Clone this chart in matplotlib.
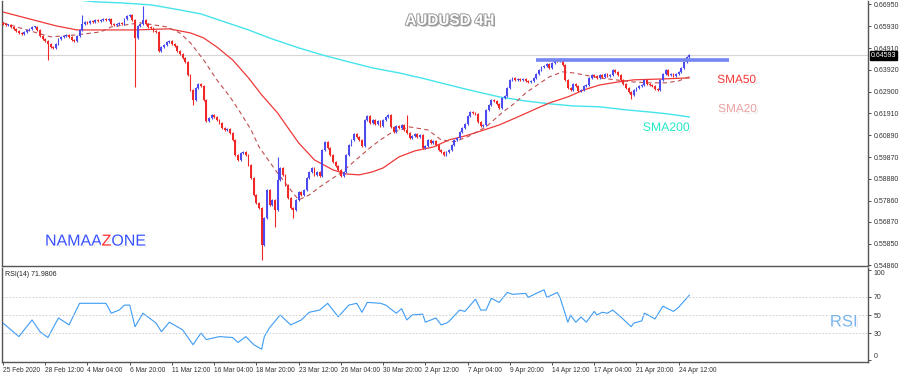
import numpy as np
import matplotlib
matplotlib.use('Agg')
import matplotlib.pyplot as plt
import matplotlib.patheffects as pe
import matplotlib.transforms as mtransforms

# --- AUDUSD 4H closes (one per bar) ---
first_open = 0.6609
closes = [
    0.6604, 0.6599, 0.6599, 0.6590, 0.6581, 0.6571, 0.6562, 0.6558, 0.6567, 0.6576,
    0.6581, 0.6590, 0.6590, 0.6576, 0.6548, 0.6534, 0.6525, 0.6511, 0.6497, 0.6493,
    0.6511, 0.6534, 0.6544, 0.6548, 0.6553, 0.6544, 0.6530, 0.6525, 0.6548, 0.6576,
    0.6604, 0.6613, 0.6609, 0.6618, 0.6613, 0.6622, 0.6618, 0.6622, 0.6627, 0.6622,
    0.6627, 0.6604, 0.6599, 0.6604, 0.6609, 0.6604, 0.6627, 0.6641, 0.6646, 0.6622,
    0.6539, 0.6595, 0.6604, 0.6622, 0.6604, 0.6590, 0.6585, 0.6571, 0.6567, 0.6479,
    0.6497, 0.6507, 0.6521, 0.6525, 0.6511, 0.6502, 0.6479, 0.6465, 0.6446, 0.6428,
    0.6368, 0.6298, 0.6252, 0.6308, 0.6326, 0.6317, 0.6252, 0.6155, 0.6169, 0.6183,
    0.6173, 0.6159, 0.6146, 0.6122, 0.6113, 0.6118, 0.6099, 0.6067, 0.5997, 0.5974,
    0.6007, 0.6011, 0.5997, 0.5951, 0.5891, 0.5812, 0.5775, 0.5752, 0.5581, 0.5706,
    0.5835, 0.5766, 0.5789, 0.5743, 0.5882, 0.5937, 0.5905, 0.5859, 0.5798, 0.5752,
    0.5743, 0.5789, 0.5826, 0.5812, 0.5835, 0.5891, 0.5919, 0.5937, 0.5905, 0.5919,
    0.5900, 0.6021, 0.6058, 0.6030, 0.5997, 0.5965, 0.5946, 0.5928, 0.5900, 0.5919,
    0.5997, 0.6044, 0.6067, 0.6095, 0.6081, 0.6067, 0.6039, 0.6159, 0.6178, 0.6146,
    0.6159, 0.6141, 0.6155, 0.6132, 0.6159, 0.6173, 0.6183, 0.6127, 0.6104, 0.6132,
    0.6122, 0.6136, 0.6113, 0.6099, 0.6076, 0.6085, 0.6095, 0.6081, 0.6090, 0.6030,
    0.6039, 0.6067, 0.6053, 0.6062, 0.6044, 0.6021, 0.6011, 0.5997, 0.6011, 0.6021,
    0.6044, 0.6067, 0.6076, 0.6104, 0.6122, 0.6141, 0.6178, 0.6196, 0.6192, 0.6187,
    0.6150, 0.6132, 0.6136, 0.6206, 0.6229, 0.6252, 0.6247, 0.6233, 0.6215, 0.6261,
    0.6271, 0.6308, 0.6345, 0.6354, 0.6345, 0.6349, 0.6345, 0.6349, 0.6340, 0.6335,
    0.6340, 0.6354, 0.6372, 0.6391, 0.6405, 0.6409, 0.6419, 0.6400, 0.6423, 0.6437,
    0.6433, 0.6442, 0.6414, 0.6345, 0.6308, 0.6298, 0.6326, 0.6317, 0.6294, 0.6298,
    0.6317, 0.6321, 0.6354, 0.6368, 0.6363, 0.6354, 0.6368, 0.6359, 0.6372, 0.6363,
    0.6368, 0.6391, 0.6382, 0.6368, 0.6345, 0.6326, 0.6308, 0.6289, 0.6275, 0.6298,
    0.6308, 0.6317, 0.6321, 0.6345, 0.6326, 0.6321, 0.6317, 0.6303, 0.6298, 0.6345,
    0.6372, 0.6391, 0.6368, 0.6372, 0.6363, 0.6372, 0.6382, 0.6400, 0.6428, 0.6451,
    0.64593,
]
# long wicks that stand out
wick_highs = {30: 0.6646, 53: 0.6687, 104: 0.5988, 153: 0.6183}
wick_lows = {17: 0.6437, 50: 0.6312, 72: 0.6229, 98: 0.5511, 103: 0.5664,
             110: 0.5706, 238: 0.6257}

# moving averages (bar index, price)
sma20_idx = [0, 9, 18, 28, 37, 41, 52, 62, 67, 71, 76, 81, 86, 90, 94, 97, 101, 104,
             109, 112, 116, 120, 124, 128, 135, 139, 143, 147, 154, 161, 166, 171, 176,
             183, 189, 194, 198, 203, 207, 212, 216, 220, 226, 232, 239, 245, 251, 256, 260]
sma20_val = [0.6609, 0.6576, 0.6544, 0.6553, 0.6567, 0.6590, 0.6609, 0.6590, 0.6562,
             0.6516, 0.6437, 0.6345, 0.6266, 0.6192, 0.6113, 0.6034, 0.5965, 0.5914,
             0.5835, 0.5789, 0.5812, 0.5849, 0.5882, 0.5914, 0.5988, 0.6030, 0.6067,
             0.6099, 0.6127, 0.6113, 0.6067, 0.6058, 0.6081, 0.6127, 0.6192, 0.6238,
             0.6284, 0.6326, 0.6359, 0.6382, 0.6377, 0.6368, 0.6354, 0.6345, 0.6335,
             0.6331, 0.6331, 0.6340, 0.6359]
sma50_idx = [0, 10, 20, 28, 40, 50, 63, 71, 76, 81, 87, 93, 98, 104, 108, 112, 118, 125,
             130, 135, 140, 144, 150, 156, 163, 169, 175, 180, 188, 195, 201, 207, 214,
             220, 226, 233, 239, 250, 260]
sma50_val = [0.6659, 0.6627, 0.6595, 0.6576, 0.6576, 0.6576, 0.6581, 0.6562, 0.6539,
             0.6497, 0.6437, 0.6354, 0.6275, 0.6192, 0.6122, 0.6053, 0.5974, 0.5928,
             0.5909, 0.5905, 0.5919, 0.5937, 0.5988, 0.6016, 0.6034, 0.6067, 0.6085,
             0.6104, 0.6136, 0.6173, 0.6206, 0.6238, 0.6266, 0.6298, 0.6321, 0.6335,
             0.6345, 0.6349, 0.6354]
sma200_idx = [0, 28, 35, 45, 56, 65, 75, 84, 93, 102, 112, 121, 131, 140, 150, 160, 169,
              178, 188, 198, 207, 216, 226, 236, 245, 252, 260]
sma200_val = [0.6761, 0.6715, 0.6706, 0.6701, 0.6692, 0.6673, 0.6650, 0.6613, 0.6576,
              0.6534, 0.6493, 0.6460, 0.6428, 0.6400, 0.6377, 0.6349, 0.6321, 0.6294,
              0.6266, 0.6247, 0.6234, 0.6224, 0.6220, 0.6206, 0.6196, 0.6187, 0.6173]

# resistance zone
res_level = 0.6437
res_start, res_end = 202, 275

# RSI(14)
rsi_idx = [0, 6, 11, 14, 17, 21, 25, 29, 36, 39, 41, 44, 46, 48, 50, 53, 58, 60, 63, 68,
           72, 75, 77, 82, 87, 89, 92, 95, 98, 99, 101, 105, 109, 113, 116, 120, 123, 127,
           131, 134, 136, 138, 143, 145, 149, 151, 153, 155, 159, 160, 164, 166, 168, 169,
           173, 175, 179, 181, 183, 185, 188, 191, 193, 198, 199, 202, 205, 206, 210, 211,
           214, 215, 217, 219, 221, 224, 225, 227, 229, 231, 234, 238, 239, 242, 243, 245,
           247, 250, 254, 256, 260]
rsi_val = [41, 26, 44.5, 31.5, 25, 46.7, 39, 63, 63, 63, 52, 55.5, 61, 61, 37, 52, 41,
           31.5, 42, 33.6, 17, 30, 22.7, 26, 25, 19.5, 26, 17, 12, 26, 36, 50, 39, 44.5,
           53, 55.5, 63, 48, 61, 63, 53, 64, 63, 61, 52, 57, 44.5, 50, 51, 42, 46.7, 39,
           41, 43, 55.5, 54, 67.5, 55.5, 55.5, 68.5, 64, 75, 73, 74, 69.6, 74, 78, 69.6,
           75, 69.6, 42, 50, 42, 47.8, 42, 54, 50, 53, 52, 55.5, 48, 37, 41, 43.5, 52,
           49, 45.6, 59.8, 54, 58.7, 71.98]
rsi_last = '71.9806'

time_labels = ['25 Feb 2020', '28 Feb 12:00', '4 Mar 04:00', '6 Mar 20:00',
               '11 Mar 12:00', '16 Mar 04:00', '18 Mar 20:00', '23 Mar 12:00',
               '26 Mar 04:00', '30 Mar 20:00', '2 Apr 12:00', '7 Apr 04:00',
               '9 Apr 20:00', '14 Apr 12:00', '17 Apr 04:00', '21 Apr 20:00',
               '24 Apr 12:00']
bars_per_label = 16
price_ticks = [0.66950, 0.65930, 0.64910, 0.63920, 0.62900, 0.61910, 0.60890,
               0.59870, 0.58880, 0.57860, 0.56870, 0.55850, 0.54860]
rsi_ticks = [100, 70, 50, 30, 0]
rsi_levels = [70, 50, 30]

plt.rcParams['font.family'] = ['Liberation Sans', 'DejaVu Sans']

fig = plt.figure(figsize=(9, 3.77), dpi=100)
ax = fig.add_axes([0.0022, 0.2944, 0.9622, 0.7030])
axr = fig.add_axes([0.0022, 0.0398, 0.9622, 0.2493], sharex=ax)

# candles
closes_arr = np.array(closes)
opens = np.concatenate([[first_open], closes_arr[:-1]])
pad = 0.0005
for i, (o, c) in enumerate(zip(opens, closes_arr)):
    col = '#4b4bf0' if c >= o else '#f02828'
    hi = wick_highs.get(i, max(o, c) + pad)
    lo = wick_lows.get(i, min(o, c) - pad)
    ax.vlines(i, lo, hi, color=col, lw=0.8, zorder=3)
    h = max(abs(c - o), 0.00025)
    ax.bar(i, h, bottom=min(o, c), width=0.7, color=col, lw=0, zorder=3)

ax.plot(sma200_idx, sma200_val, color='#45e4ec', lw=1.0, zorder=2)
ax.plot(sma50_idx, sma50_val, color='#f03838', lw=0.9, zorder=2)
ax.plot(sma20_idx, sma20_val, color='#c05050', lw=0.8, dashes=(4, 3), zorder=2)

ax.axhline(closes[-1], color='#d6d6d6', lw=0.8, zorder=1)
ax.hlines(res_level, res_start, res_end, color='#7585f2', lw=2.6, zorder=4)

ax.set_xlim(-0.4, 327.7)
ax.set_ylim(0.5483, 0.6710)
ax.yaxis.tick_right()
ax.set_yticks(price_ticks)
ax.set_yticklabels([f'{t:.5f}' for t in price_ticks])
ax.tick_params(axis='y', labelsize=5, length=2, width=0.6, colors='#333333', pad=2)
ax.tick_params(axis='x', bottom=False, labelbottom=False)

blend = mtransforms.blended_transform_factory(ax.transAxes, ax.transData)
ax.text(1.003, closes[-1], f'{closes[-1]:.5f}', transform=blend, fontsize=5,
        color='white', va='center', ha='left',
        bbox=dict(boxstyle='square,pad=0.15', fc='black', ec='black'))

for a in (ax, axr):
    for s in a.spines.values():
        s.set_color('#555555')
        s.set_linewidth(1.0)
    a.spines['top'].set_visible(False)

halo = [pe.SimplePatchShadow(offset=(1, -1), shadow_rgbFace='#8a8a8a', alpha=0.6),
        pe.Stroke(linewidth=2.2, foreground='white'), pe.Normal()]

ax.text(0.517, 0.925, 'AUDUSD 4H', transform=ax.transAxes, fontsize=11,
        fontweight='bold', color='white', ha='center', va='center',
        path_effects=[pe.SimplePatchShadow(offset=(1.2, -1.2), shadow_rgbFace='#777777', alpha=0.7),
                      pe.Stroke(linewidth=1.4, foreground='#9a9a9a'), pe.Normal()])

t1 = ax.text(0.0497, 0.094, 'NAMAA', transform=ax.transAxes, fontsize=11.5,
             color='#3a52ff', ha='left', va='center', path_effects=halo)
t2 = ax.annotate('Z', xy=(1, 0), xycoords=t1, va='bottom', ha='left', fontsize=11.5,
                 color='#ff2a2a', path_effects=halo)
ax.annotate('ONE', xy=(1, 0), xycoords=t2, va='bottom', ha='left', fontsize=11.5,
            color='#3a52ff', path_effects=halo)

ax.text(0.826, 0.702, 'SMA50', transform=ax.transAxes, fontsize=8.5, color='#f53535',
        ha='left', va='center', path_effects=halo)
ax.text(0.827, 0.592, 'SMA20', transform=ax.transAxes, fontsize=8.5, color='#e8a0a0',
        ha='left', va='center', path_effects=halo)
ax.text(0.740, 0.521, 'SMA200', transform=ax.transAxes, fontsize=8.8, color='#22e8c8',
        ha='left', va='center', path_effects=halo)

# RSI panel
axr.plot(rsi_idx, rsi_val, color='#3d9cf5', lw=0.8)
for lv in rsi_levels:
    axr.axhline(lv, color='#c8c8c8', lw=0.6, ls=(0, (2, 2)))
axr.set_ylim(-2.2, 102.2)
axr.yaxis.tick_right()
axr.set_yticks(rsi_ticks)
axr.set_yticklabels([str(t) for t in rsi_ticks])
axr.tick_params(axis='y', labelsize=5, length=2, width=0.6, colors='#333333', pad=2)
ylabels = axr.get_yticklabels()
ylabels[0].set_va('top')
ylabels[-1].set_va('bottom')
axr.set_xticks([k * bars_per_label for k in range(len(time_labels))])
axr.set_xticklabels(time_labels, ha='left')
axr.tick_params(axis='x', labelsize=4.8, length=2, width=0.6, colors='#333333', pad=1.5)
axr.text(0.0035, 0.936, f'RSI(14) {rsi_last}', transform=axr.transAxes, fontsize=5,
         color='#222222', ha='left', va='center')
axr.text(0.956, 0.426, 'RSI', transform=axr.transAxes, fontsize=12, color='#7ab4ea',
         ha='left', va='center', path_effects=halo)

fig.savefig('out.png', dpi=100, facecolor='white')
